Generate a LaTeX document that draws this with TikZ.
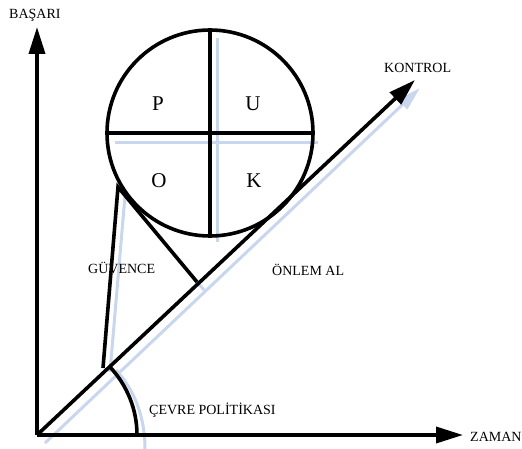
\documentclass[tikz,border=0pt]{standalone}
\usepackage{fontspec}
\setmainfont{Liberation Serif}
\usetikzlibrary{arrows.meta}
\begin{document}
\begin{tikzpicture}[x=1pt,y=-1pt,
  blk/.style={line width=3.6pt,black},
  shd/.style={line width=3pt,color={rgb,255:red,200;green,214;blue,238}},
  bigtip/.style={-{Triangle[length=27pt,width=16pt]}},
  shdtip/.style={-{Triangle[length=24pt,width=13pt]}},
  lbl/.style={font=\fontsize{14}{16}\selectfont,anchor=west,inner sep=0pt},
  quad/.style={font=\fontsize{21}{23}\selectfont,inner sep=0pt}]
\useasboundingbox (0,0) rectangle (522,449);
% key points
\coordinate (O) at (37,435);
\coordinate (Ytip) at (37,27);
\coordinate (Xtip) at (463,435);
\coordinate (Dtip) at (415,80);
\coordinate (G) at (118,187);
\coordinate (A) at (103,368);
\coordinate (B) at (197,282);
\coordinate (C1) at (110,367);
\coordinate (C2) at (137,435);
% shadows
\coordinate (sO) at (45,443);
\coordinate (sDtip) at (420,88);
\draw[shd,shdtip] (sO) -- (sDtip);
\coordinate (sv1) at (217,38); \coordinate (sv2) at (217,242);
\coordinate (sh1) at (115,143); \coordinate (sh2) at (318,143);
\draw[shd] (sv1) -- (sv2);
\draw[shd] (sh1) -- (sh2);
\coordinate (sG) at (125,196); \coordinate (sA) at (110,372); \coordinate (sB) at (204,290);
\draw[shd] (sG) -- (sA);
\draw[shd] (sG) -- (sB);
\coordinate (sC1) at (116,370);
\coordinate (sC2) at (145,449);
\draw[shd] (sC1) .. controls (133,388) and (145,415) .. (sC2);
% axes
\draw[blk,bigtip] (O) -- (Ytip);
\draw[blk,bigtip] (O) -- (Xtip);
\draw[blk,bigtip] (O) -- (Dtip);
% circle
\node[circle,draw,line width=3.6pt,minimum size=206pt,inner sep=0pt,outer sep=0pt] (circ) at (210,133) {};
\draw[blk] (circ.north) -- (circ.south);
\draw[blk] (circ.west) -- (circ.east);
\node[quad] (p) at (158,104) {P};
\node[quad] (u) at (253,104) {U};
\node[quad] (o) at (159,181) {O};
\node[quad] (k) at (254,181) {K};
% triangle lines
\draw[blk,line join=miter] (A) -- (G) -- (B);
% arc
\draw[blk] (C1) .. controls (127.3,385.5) and (137,409.7) .. (C2);
% labels
\node[lbl] (basari) at (9,15) {BAŞARI};
\node[lbl] (zaman) at (470,437) {ZAMAN};
\node[lbl] (kontrol) at (384,68) {KONTROL};
\node[lbl] (guvence) at (88,268) {GÜVENCE};
\node[lbl] (onlem) at (272,270) {ÖNLEM AL};
\node[lbl] (cevre) at (149,410) {ÇEVRE POLİTİKASI};
\end{tikzpicture}
\end{document}
